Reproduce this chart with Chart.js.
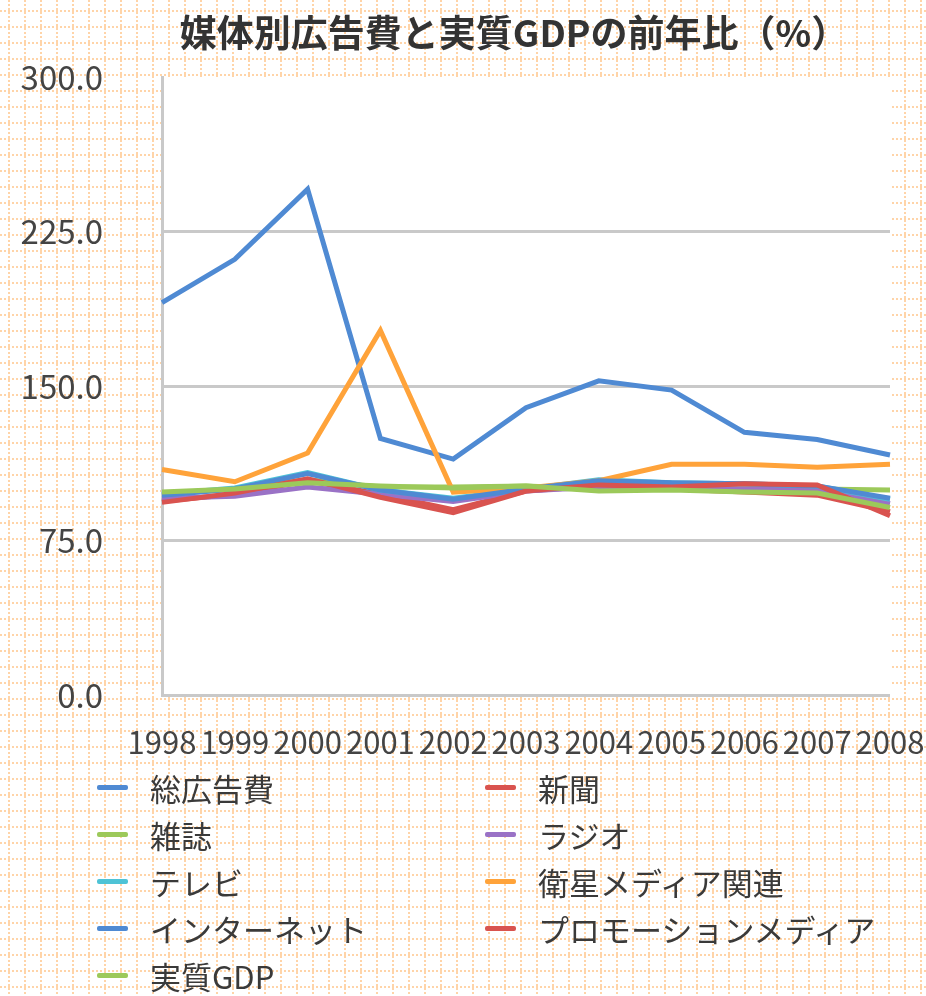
<!DOCTYPE html>
<html lang="ja">
<head>
<meta charset="utf-8">
<script src="https://cdn.jsdelivr.net/npm/chart.js@4/dist/chart.umd.min.js"></script>
<style>
  html, body { margin: 0; padding: 0; background: #fff; }
  body { width: 926px; height: 996px; position: relative; overflow: hidden; }
  #bg { position: absolute; left: 0; top: 0; }
  #wrap { position: absolute; left: 0; top: 0; width: 926px; height: 770px; }
  #legend {
    position: absolute; left: 97px; top: 764px;
    display: grid; grid-template-columns: 388px 420px; grid-auto-rows: 47px;
    font-family: "Noto Sans CJK JP", "Noto Sans", sans-serif; font-size: 31px; color: #3a3a3a;
  }
  .item { display: flex; align-items: center; }
  .swatch { width: 31px; height: 5px; border-radius: 2px; margin-right: 22px; }
</style>
</head>
<body>
<canvas id="bg" width="926" height="996"></canvas>
<div id="wrap"><canvas id="chart"></canvas></div>
<div id="legend"></div>
<script>
const years = ['1998', '1999', '2000', '2001', '2002', '2003', '2004', '2005', '2006', '2007', '2008'];
const yTicks = [0, 75, 150, 225, 300];

const totalAd   = [190.5, 211.5, 245.5, 124.5, 114.5, 139.5, 152.5, 148, 127.5, 124, 116.5];
const newspaper = [94, 97.5, 104, 97.5, 90, 99, 101.5, 100, 98.5, 97, 89];
const magazine  = [97.5, 100, 104.5, 101, 101, 101.5, 100, 100.5, 100, 100, 99.5];
const radio     = [95.5, 96.5, 101, 97.5, 94, 99, 101, 100.5, 100, 99.5, 93];
const tv        = [97.5, 100.5, 108, 99.5, 95.5, 100, 104.5, 103, 102.5, 101.5, 95];
const satellite = [109.5, 103.5, 117.5, 177, 98.5, 100.5, 104, 112, 112, 110.5, 112];
const internet  = [97, 100, 107.5, 99.5, 95, 100, 104, 103, 102.5, 101.5, 95.5];
const promotion = [93.5, 98, 105, 96, 88.5, 99, 102, 101, 102.5, 102, 87];
const realGdp   = [98.5, 100, 103, 101.5, 100.5, 101.5, 99, 99.5, 98.5, 98, 91];

const series = [
  ['総広告費', totalAd, '#4f8ad3'],
  ['新聞', newspaper, '#d9534f'],
  ['雑誌', magazine, '#9cc95a'],
  ['ラジオ', radio, '#9a72c6'],
  ['テレビ', tv, '#4ec3d6'],
  ['衛星メディア関連', satellite, '#ffa33a'],
  ['インターネット', internet, '#4f8ad3'],
  ['プロモーションメディア', promotion, '#d9534f'],
  ['実質GDP', realGdp, '#9cc95a']
];

// dotted orange paper behind everything
const bg = document.getElementById('bg').getContext('2d');
bg.strokeStyle = 'rgba(255, 178, 100, 0.75)';
bg.lineWidth = 1.5;
bg.setLineDash([2, 2]);
for (let x = 9; x < 926; x += 16) {
  bg.beginPath(); bg.moveTo(x, 0); bg.lineTo(x, 996); bg.stroke();
}
for (let y = 11; y < 996; y += 16) {
  bg.beginPath(); bg.moveTo(0, y); bg.lineTo(926, y); bg.stroke();
}

const plotBackground = {
  id: 'plotBackground',
  beforeDraw(chart) {
    const { ctx, chartArea: a } = chart;
    ctx.save();
    ctx.fillStyle = '#fff';
    ctx.fillRect(a.left, a.top, a.right - a.left, a.bottom - a.top);
    ctx.restore();
  }
};

const titleText = {
  id: 'titleText',
  afterDraw(chart) {
    const { ctx, chartArea: a } = chart;
    ctx.save();
    ctx.font = 'bold 37px "Noto Sans CJK JP"';
    ctx.fillStyle = '#333';
    ctx.textAlign = 'center';
    ctx.textBaseline = 'middle';
    ctx.fillText('媒体別広告費と実質GDPの前年比（%）', (a.left + a.right) / 2 - 12, 33);
    ctx.restore();
  }
};

const chart = new Chart(document.getElementById('chart'), {
  type: 'line',
  data: {
    labels: years,
    datasets: series.map(([label, data, color], i) => ({
      label: label,
      data: data,
      borderColor: color,
      backgroundColor: color,
      borderWidth: 5,
      pointRadius: 0,
      tension: 0,
      order: series.length - i
    }))
  },
  options: {
    responsive: true,
    maintainAspectRatio: false,
    animation: false,
    layout: { padding: { left: 12, top: 77, right: 0, bottom: 0 } },
    scales: {
      x: {
        offset: false,
        grid: { display: false, drawTicks: false },
        border: { display: false },
        ticks: {
          color: '#444',
          font: { family: 'Noto Sans CJK JP', size: 31 },
          maxRotation: 0,
          autoSkip: false,
          padding: 29
        },
        afterFit(axis) {
          axis.height = 75;
          axis.paddingLeft = 0;
          axis.paddingRight = 36;
        }
      },
      y: {
        min: 0,
        max: 300,
        afterBuildTicks(axis) {
          axis.ticks = yTicks.map(v => ({ value: v }));
        },
        ticks: {
          color: '#444',
          font: { family: 'Noto Sans CJK JP', size: 33 },
          padding: 59,
          callback: v => Number(v).toFixed(1)
        },
        afterFit(axis) {
          axis.width = 150;
          axis.paddingTop = 0;
          axis.paddingBottom = 0;
        },
        grid: {
          drawTicks: false,
          lineWidth: 3,
          color: ctx => (ctx.tick && ctx.tick.value === 300 ? 'rgba(0,0,0,0)' : '#c9c9c9')
        },
        border: { display: true, color: '#c9c9c9', width: 3 }
      }
    },
    plugins: {
      legend: { display: false },
      title: { display: false },
      tooltip: { enabled: false }
    }
  },
  plugins: [plotBackground, titleText]
});

const legend = document.getElementById('legend');
chart.data.datasets.forEach(ds => {
  const item = document.createElement('div');
  item.className = 'item';
  const sw = document.createElement('span');
  sw.className = 'swatch';
  sw.style.background = ds.borderColor;
  const txt = document.createElement('span');
  txt.textContent = ds.label;
  item.appendChild(sw);
  item.appendChild(txt);
  legend.appendChild(item);
});
</script>
</body>
</html>
